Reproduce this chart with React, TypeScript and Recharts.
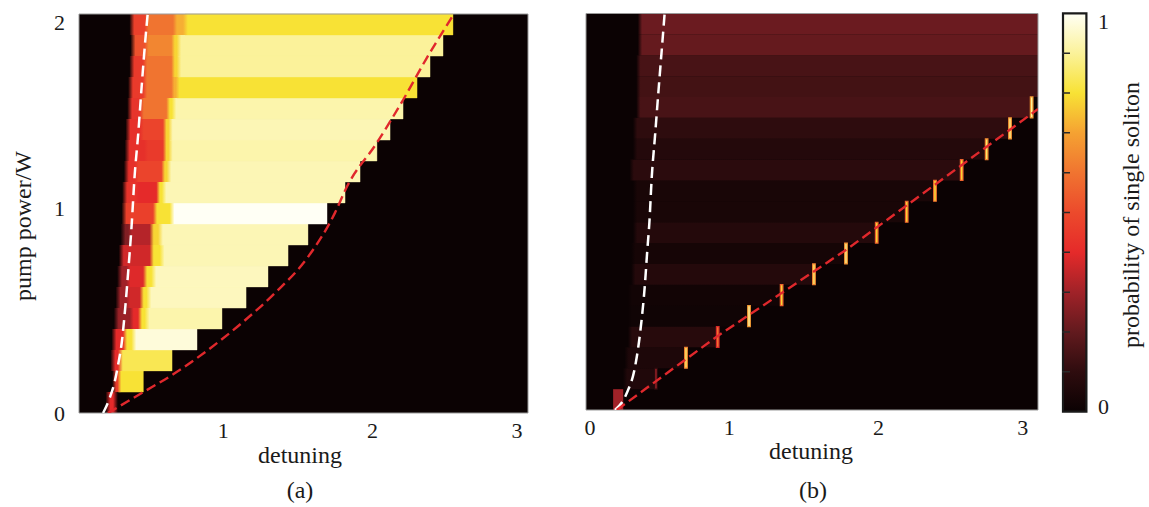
import React from 'react';
import { ComposedChart, XAxis, YAxis, Line, Bar, ReferenceArea, ReferenceLine } from 'recharts';

const SERIF = '"Liberation Serif", "Times New Roman", Times, serif';
const INK = '#1a1a1a';

// 19 pump-power bands (W), lower/upper edges, shared by both panels
const powerEdges = [0, 0.105, 0.211, 0.316, 0.421, 0.526, 0.632, 0.737, 0.842, 0.947, 1.053, 1.158, 1.263, 1.368, 1.474, 1.579, 1.684, 1.789, 1.895, 2.0];

// colour map of the colour bar (probability -> colour)
const cmapPos = [0, 0.1, 0.2, 0.3, 0.4, 0.5, 0.6, 0.7, 0.8, 0.9, 1];
const cmapHex = ['#0b0203', '#2e0c0e', '#621a1e', '#a02228', '#e52a2a', '#ec4a2c', '#f07430', '#f5a232', '#f8e235', '#fbf29a', '#fffff5'];
const colorBarData = [{ name: 'probability', value: 1 }];
const cbarMinor = [0.1, 0.2, 0.3, 0.4, 0.5, 0.6, 0.7, 0.8, 0.9];

// panel (a): per power band (bottom -> top) detuning breakpoints [onset, b1, b2, b3, edge]
const aBreaks = [
  [0.169, 0.215, 0.215, 0.215, 0.215],
  [0.215, 0.215, 0.238, 0.238, 0.411],
  [0.203, 0.203, 0.249, 0.249, 0.61],
  [0.21, 0.21, 0.284, 0.342, 0.783],
  [0.226, 0.33, 0.388, 0.434, 0.956],
  [0.238, 0.307, 0.4, 0.446, 1.123],
  [0.249, 0.307, 0.423, 0.48, 1.275],
  [0.261, 0.261, 0.469, 0.538, 1.414],
  [0.273, 0.319, 0.469, 0.527, 1.552],
  [0.28, 0.28, 0.492, 0.607, 1.684],
  [0.284, 0.365, 0.515, 0.55, 1.809],
  [0.296, 0.365, 0.55, 0.584, 1.913],
  [0.302, 0.43, 0.561, 0.595, 2.03],
  [0.307, 0.4, 0.561, 0.595, 2.121],
  [0.319, 0.4, 0.584, 0.619, 2.211],
  [0.325, 0.423, 0.619, 0.642, 2.308],
  [0.334, 0.423, 0.619, 0.653, 2.398],
  [0.342, 0.434, 0.619, 0.653, 2.488],
  [0.334, 0.434, 0.63, 0.7, 2.557],
];
// panel (a): probability of single soliton in the four segments of each band
const aVals = [
  [0.4, 0, 0, 0],
  [0, 0.45, 0, 0.8],
  [0, 0.4, 0, 0.83],
  [0, 0.4, 0.8, 0.97],
  [0.29, 0.4, 0.8, 0.92],
  [0.3, 0.37, 0.8, 0.94],
  [0.3, 0.39, 0.8, 0.94],
  [0, 0.37, 0.8, 0.93],
  [0.25, 0.33, 0.78, 0.93],
  [0, 0.47, 0.8, 1.0],
  [0.43, 0.4, 0.8, 0.93],
  [0.42, 0.48, 0.78, 0.93],
  [0.42, 0.45, 0.78, 0.92],
  [0.42, 0.48, 0.78, 0.93],
  [0.43, 0.6, 0.8, 0.92],
  [0.45, 0.6, 0.72, 0.8],
  [0.45, 0.6, 0.78, 0.9],
  [0.52, 0.64, 0.78, 0.9],
  [0.47, 0.6, 0.72, 0.8],
];

// panel (b): per power band (bottom -> top)
const bOnset = [0.16, 0.243, 0.254, 0.277, 0.277, 0.277, 0.3, 0.3, 0.312, 0.312, 0.312, 0.289, 0.312, 0.312, 0.335, 0.335, 0.335, 0.346, 0.346];
const bEdge = [0.23, 0.457, 0.665, 0.885, 1.102, 1.328, 1.552, 1.774, 1.987, 2.195, 2.391, 2.576, 2.749, 2.911, 3.061, 3.105, 3.105, 3.105, 3.105];
const bLevel = [0.3, 0.06, 0.05, 0.08, 0.015, 0.02, 0.07, 0.03, 0.07, 0.04, 0.04, 0.09, 0.07, 0.1, 0.15, 0.14, 0.15, 0.205, 0.215];
// panel (b): narrow high-probability cells at the upper boundary (bands 1..14)
const bPeak = [0, 0.3, 0.85, 0.6, 0.9, 0.78, 0.85, 0.88, 0.78, 0.78, 0.8, 0.78, 0.85, 0.88, 0.9, 0, 0, 0, 0];

// theory curves
const whiteA = [
  { d: 0.132, p: 0 }, { d: 0.139, p: 0.01 }, { d: 0.18, p: 0.08 }, { d: 0.215, p: 0.165 }, { d: 0.238, p: 0.25 },
  { d: 0.261, p: 0.351 }, { d: 0.284, p: 0.516 }, { d: 0.307, p: 0.717 }, { d: 0.329, p: 0.932 }, { d: 0.35, p: 1.183 },
  { d: 0.376, p: 1.404 }, { d: 0.399, p: 1.634 }, { d: 0.423, p: 1.855 }, { d: 0.441, p: 2.0 },
];
const redA = [
  { d: 0.166, p: 0 }, { d: 0.4, p: 0.1 }, { d: 0.631, p: 0.2 }, { d: 0.859, p: 0.316 }, { d: 1.093, p: 0.451 },
  { d: 1.323, p: 0.601 }, { d: 1.552, p: 0.782 }, { d: 1.739, p: 1.003 }, { d: 1.821, p: 1.133 }, { d: 2.028, p: 1.353 },
  { d: 2.211, p: 1.569 }, { d: 2.375, p: 1.779 }, { d: 2.564, p: 2.0 },
];
const whiteB = [
  { d: 0.173, p: 0 }, { d: 0.254, p: 0.084 }, { d: 0.312, p: 0.218 }, { d: 0.347, p: 0.388 }, { d: 0.381, p: 0.64 },
  { d: 0.397, p: 0.807 }, { d: 0.411, p: 0.942 }, { d: 0.428, p: 1.177 }, { d: 0.45, p: 1.379 }, { d: 0.473, p: 1.597 },
  { d: 0.497, p: 1.816 }, { d: 0.517, p: 2.0 },
];
const redB = [{ d: 0.185, p: 0 }, { d: 0.878, p: 0.37 }, { d: 1.779, p: 0.81 }, { d: 3.105, p: 1.518 }];

function hexToRgb(h: string) {
  return [parseInt(h.slice(1, 3), 16), parseInt(h.slice(3, 5), 16), parseInt(h.slice(5, 7), 16)];
}
function cmap(v: number): string {
  const t = Math.max(0, Math.min(1, v));
  let k = 0;
  while (k < cmapPos.length - 2 && t > cmapPos[k + 1]) k++;
  const f = (t - cmapPos[k]) / (cmapPos[k + 1] - cmapPos[k]);
  const a = hexToRgb(cmapHex[k]);
  const b = hexToRgb(cmapHex[k + 1]);
  const c = a.map((x, i) => Math.round(x + (b[i] - x) * f));
  return `rgb(${c[0]},${c[1]},${c[2]})`;
}

// soft (interpolated) transition of the left part of each band in panel (a)
const PAD = 0.02;
function leftStopsA(i: number) {
  const b = aBreaks[i];
  const v = aVals[i];
  const start = b[0] - PAD;
  const end = b[3] + PAD;
  const span = end - start;
  const stops: { o: number; c: string }[] = [{ o: 0, c: cmap(0) }];
  for (let k = 0; k < 3; k++) {
    const w = b[k + 1] - b[k];
    if (w <= 0) continue;
    const h = Math.min(0.014, w * 0.3);
    stops.push({ o: (b[k] + h - start) / span, c: cmap(v[k]) });
    stops.push({ o: (b[k + 1] - h - start) / span, c: cmap(v[k]) });
  }
  stops.push({ o: 1, c: cmap(v[3]) });
  return stops;
}
// soft onset of the bands in panel (b)
const BPAD = 0.015;
function stopsB(i: number) {
  const span = bEdge[i] - (bOnset[i] - BPAD);
  const f = Math.min(0.5, (2 * BPAD) / span);
  return [
    { o: 0, c: cmap(0) },
    { o: f, c: cmap(bLevel[i]) },
    { o: 1, c: cmap(bLevel[i]) },
  ];
}

const tickStyle = { fontSize: 22, fontFamily: SERIF, fill: INK };

const XTick = (props: any) => {
  const { x, y, payload } = props;
  const dx = payload.value === 1 ? -5 : 0;
  return (
    <text x={x + dx} y={y} dy="0.71em" textAnchor="middle" style={tickStyle}>{payload.value}</text>
  );
};
const YTickA = (props: any) => {
  const { x, y, payload } = props;
  const shift = payload.value === 2 ? 8 : payload.value === 1 ? -5 : 0;
  return (
    <text x={x} y={y + shift} dy="0.355em" textAnchor="end" style={tickStyle}>{payload.value}</text>
  );
};
const YTickC = (props: any) => {
  const { x, y, payload } = props;
  const shift = payload.value === 1 ? 8 : -6;
  return (
    <text x={x} y={y + shift} dy="0.355em" textAnchor="start" style={tickStyle}>{payload.value}</text>
  );
};

function cellsA() {
  const out: any[] = [];
  aBreaks.forEach((b, i) => {
    const y1 = powerEdges[i];
    const y2 = powerEdges[i + 1];
    if (b[4] > b[3] && aVals[i][3] > 0) {
      const c = cmap(aVals[i][3]);
      out.push(
        <ReferenceArea key={`ap${i}`} x1={b[3]} x2={b[4]} y1={y1} y2={y2}
          fill={c} fillOpacity={1} stroke={c} strokeWidth={0.4} ifOverflow="visible" />
      );
    }
    out.push(
      <ReferenceArea key={`al${i}`} x1={b[0] - PAD} x2={b[3] + PAD} y1={y1} y2={y2}
        fill={`url(#gradA${i})`} fillOpacity={1} stroke="none" ifOverflow="visible" />
    );
  });
  return out;
}

function cellsB() {
  return bOnset.map((o, i) => (
    <ReferenceArea key={`b${i}`} x1={i === 0 ? o : o - BPAD} x2={bEdge[i]} y1={powerEdges[i]} y2={powerEdges[i + 1]}
      fill={i === 0 ? cmap(bLevel[i]) : `url(#gradB${i})`} fillOpacity={1} stroke="none" ifOverflow="visible" />
  ));
}

function peaksB() {
  const out: any[] = [];
  bPeak.forEach((v, i) => {
    if (v > 0) {
      out.push(
        <ReferenceArea key={`pk${i}`} x1={bEdge[i] - 0.009} x2={bEdge[i] + 0.009} y1={powerEdges[i]} y2={powerEdges[i + 1]}
          fill={cmap(v)} fillOpacity={1} stroke={cmap(v - 0.22)} strokeWidth={1.2} ifOverflow="visible" />
      );
    }
  });
  return out;
}

export default function App() {
  return (
    <div style={{ position: 'absolute', left: 0, top: 0, width: 1149, height: 507, background: '#fff', overflow: 'hidden' }}>
      <svg width={0} height={0} style={{ position: 'absolute' }}>
        <defs>
          <linearGradient id="cbarGrad" x1="0" y1="1" x2="0" y2="0">
            {cmapPos.map((p, i) => (
              <stop key={i} offset={`${p * 100}%`} stopColor={cmapHex[i]} />
            ))}
          </linearGradient>
          {aBreaks.map((_, i) => (
            <linearGradient key={`ga${i}`} id={`gradA${i}`} x1="0" y1="0" x2="1" y2="0">
              {leftStopsA(i).map((s, k) => (
                <stop key={k} offset={`${(s.o * 100).toFixed(2)}%`} stopColor={s.c} />
              ))}
            </linearGradient>
          ))}
          {bOnset.map((_, i) => (
            <linearGradient key={`gb${i}`} id={`gradB${i}`} x1="0" y1="0" x2="1" y2="0">
              {stopsB(i).map((s, k) => (
                <stop key={k} offset={`${(s.o * 100).toFixed(2)}%`} stopColor={s.c} />
              ))}
            </linearGradient>
          ))}
        </defs>
      </svg>

      {/* panel (a) */}
      <div style={{ position: 'absolute', left: 0, top: 0 }}>
        <ComposedChart width={540} height={507} margin={{ top: 14, right: 12, bottom: 64, left: 39 }}>
          <XAxis type="number" dataKey="d" domain={[-0.035, 3.077]} ticks={[1, 2, 3]} allowDataOverflow
            tickLine={false} axisLine={false} tickSize={0} tickMargin={9} height={30} tick={<XTick />} />
          <YAxis type="number" domain={[0, 2]} ticks={[0, 1, 2]} allowDataOverflow
            tickLine={false} axisLine={false} tickSize={0} tickMargin={14} width={40} tick={<YTickA />} />
          <ReferenceArea x1={-0.035} x2={3.077} y1={0} y2={2} fill={cmap(0)} fillOpacity={1} stroke="none" ifOverflow="visible" />
          {cellsA()}
          <ReferenceArea x1={-0.035} x2={3.077} y1={0} y2={2} fill="none" stroke="#9a9a9a" strokeWidth={1} ifOverflow="visible" />
          <Line data={whiteA} dataKey="p" type="monotone" stroke="#ffffff" strokeWidth={2.5} strokeDasharray="11 6" dot={false} isAnimationActive={false} />
          <Line data={redA} dataKey="p" type="monotone" stroke="#e0282c" strokeWidth={2.4} strokeDasharray="10 5" dot={false} isAnimationActive={false} />
        </ComposedChart>
      </div>

      {/* panel (b) */}
      <div style={{ position: 'absolute', left: 545, top: 0 }}>
        <ComposedChart width={500} height={507} margin={{ top: 13.5, right: 7, bottom: 67, left: 41 }}>
          <XAxis type="number" dataKey="d" domain={[-0.028, 3.105]} ticks={[0, 1, 2, 3]} allowDataOverflow
            tickLine={false} axisLine={false} tickSize={0} tickMargin={9} height={30} tick={<XTick />} />
          <YAxis type="number" domain={[0, 2]} allowDataOverflow hide />
          <ReferenceArea x1={-0.028} x2={3.105} y1={0} y2={2} fill={cmap(0)} fillOpacity={1} stroke="none" ifOverflow="visible" />
          {cellsB()}
          {peaksB()}
          <ReferenceArea x1={-0.028} x2={3.105} y1={0} y2={2} fill="none" stroke="#9a9a9a" strokeWidth={1} ifOverflow="visible" />
          <Line data={whiteB} dataKey="p" type="monotone" stroke="#ffffff" strokeWidth={2.5} strokeDasharray="11 6" dot={false} isAnimationActive={false} />
          <Line data={redB} dataKey="p" type="linear" stroke="#e0282c" strokeWidth={2.4} strokeDasharray="10 5" dot={false} isAnimationActive={false} />
        </ComposedChart>
      </div>

      {/* colour bar */}
      <div style={{ position: 'absolute', left: 1050, top: 0 }}>
        <ComposedChart width={99} height={507} data={colorBarData} barCategoryGap={0}
          margin={{ top: 13.3, right: 21, bottom: 95.3, left: 12 }}>
          <XAxis type="category" dataKey="name" hide />
          <YAxis type="number" orientation="right" domain={[0, 1]} ticks={[0, 1]} width={40}
            tickLine={false} axisLine={false} tickSize={0} tickMargin={10} tick={<YTickC />} />
          <Bar dataKey="value" fill="url(#cbarGrad)" stroke="#1a1a1a" strokeWidth={2.2} barSize={26} isAnimationActive={false} />
          {cbarMinor.map((t) => (
            <ReferenceLine key={t} y={t} stroke="#2a2a2a" strokeWidth={1.5} strokeDasharray="0 18 8" />
          ))}
        </ComposedChart>
      </div>

      {/* titles */}
      <svg width={1149} height={507} style={{ position: 'absolute', left: 0, top: 0, pointerEvents: 'none' }}>
        <g style={{ fontFamily: SERIF, fill: INK, fontSize: 24 }}>
          <text x={31} y={226} textAnchor="middle" transform="rotate(-90 31 226)">pump power/W</text>
          <text x={300} y={463} textAnchor="middle">detuning</text>
          <text x={811} y={459} textAnchor="middle">detuning</text>
          <text x={300} y={498} textAnchor="middle">(a)</text>
          <text x={813} y={498} textAnchor="middle">(b)</text>
          <text x={1139} y={215} textAnchor="middle" transform="rotate(-90 1139 215)">probability of single soliton</text>
        </g>
      </svg>
    </div>
  );
}
